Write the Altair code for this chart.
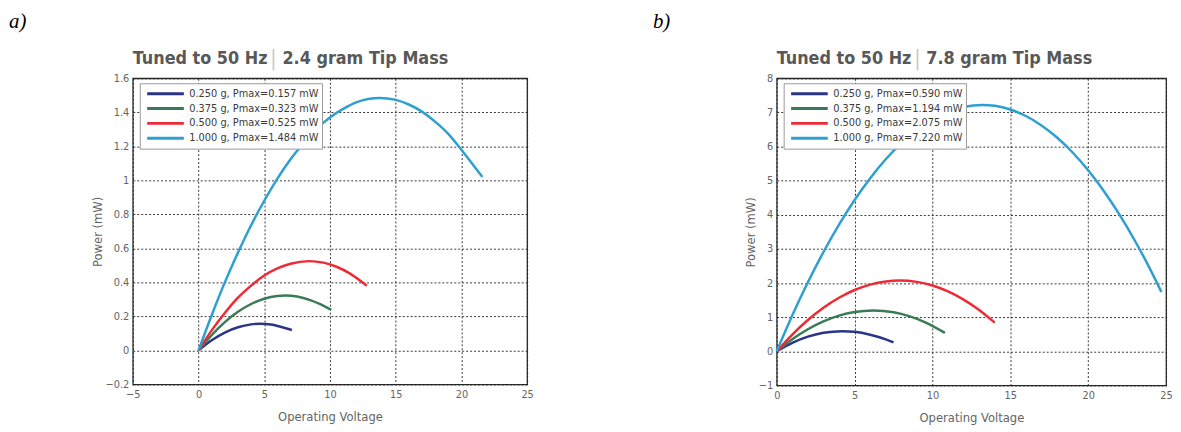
import altair as alt
import pandas as pd

# ---------------- data: panel a) 2.4 gram tip mass ----------------
a_labels = ["0.250 g, Pmax=0.157 mW", "0.375 g, Pmax=0.323 mW",
            "0.500 g, Pmax=0.525 mW", "1.000 g, Pmax=1.484 mW"]
a_v_025 = [0, 1, 2, 3, 4, 4.7, 5.5, 6.3, 7.1]
a_p_025 = [0, 0.06, 0.105, 0.136, 0.153, 0.157, 0.152, 0.138, 0.12]
a_v_0375 = [0, 1, 2, 3, 4, 5, 6, 6.6, 7.5, 8.5, 9.3, 10.1]
a_p_0375 = [0, 0.09, 0.166, 0.227, 0.273, 0.304, 0.32, 0.323, 0.317, 0.296, 0.27, 0.238]
a_v_05 = [0, 1, 2, 3, 4, 5, 6, 7, 8.4, 9.5, 10.5, 11.5, 12.8]
a_p_05 = [0, 0.118, 0.22, 0.31, 0.381, 0.44, 0.482, 0.51, 0.525, 0.516, 0.492, 0.453, 0.38]
a_v_1 = [0, 1, 2, 3, 4, 5, 6, 7, 8, 9, 10, 11, 12, 13.8, 15, 16, 17, 18, 19, 20, 21, 21.6]
a_p_1 = [0, 0.207, 0.4, 0.575, 0.736, 0.88, 1.01, 1.124, 1.22, 1.305, 1.37, 1.42, 1.459,
         1.484, 1.473, 1.446, 1.404, 1.345, 1.273, 1.18, 1.08, 1.02]

# ---------------- data: panel b) 7.8 gram tip mass ----------------
b_labels = ["0.250 g, Pmax=0.590 mW", "0.375 g, Pmax=1.194 mW",
            "0.500 g, Pmax=2.075 mW", "1.000 g, Pmax=7.220 mW"]
b_v_025 = [0, 1, 2, 3, 4.2, 5, 6, 7, 7.5]
b_p_025 = [0, 0.248, 0.428, 0.542, 0.59, 0.57, 0.485, 0.35, 0.26]
b_v_0375 = [0, 1, 2, 3, 4, 5, 6.2, 7.5, 8.5, 9.5, 10.8]
b_p_0375 = [0, 0.354, 0.646, 0.876, 1.044, 1.149, 1.194, 1.142, 1.03, 0.856, 0.54]
b_v_05 = [0, 1, 2, 3, 4, 5, 6, 7, 7.9, 9, 10, 11, 12, 13, 14]
b_p_05 = [0, 0.492, 0.918, 1.277, 1.569, 1.796, 1.955, 2.048, 2.075, 2.035, 1.928,
          1.756, 1.516, 1.21, 0.838]
b_v_1 = [0, 1, 2, 3, 4, 5, 6, 7, 8, 9, 10, 11, 12, 13.2, 14, 15, 16, 17, 18, 19, 20,
         21, 22, 23, 24, 24.7]
b_p_1 = [0, 1.053, 2.022, 2.909, 3.713, 4.434, 5.072, 5.627, 6.1, 6.489, 6.796, 7.02,
         7.16, 7.22, 7.194, 7.086, 6.895, 6.62, 6.265, 5.826, 5.304, 4.699, 4.011, 3.24,
         2.387, 1.74]

colors = ["#2b3588", "#3b7a57", "#ee2a36", "#2d9fd0"]

NARROW = "Liberation Sans Narrow, DejaVu Sans Condensed, Arial Narrow, sans-serif"
GRAY = "#646464"


def frame(labels, vs, ps):
    rows = []
    for lab, v, p in zip(labels, vs, ps):
        for a, b in zip(v, p):
            rows.append({"label": lab, "V": a, "P": b})
    return pd.DataFrame(rows)


def panel(df, labels, letter, mass, xdom, xvals, ydom, yvals, w, h, tag_y):
    lines = alt.Chart(df).mark_line(strokeWidth=2.5, interpolate="monotone").encode(
        x=alt.X("V:Q", scale=alt.Scale(domain=xdom, nice=False, zero=False),
                axis=alt.Axis(values=xvals, title="Operating Voltage", format="~g",
                              titlePadding=11)),
        y=alt.Y("P:Q", scale=alt.Scale(domain=ydom, nice=False, zero=False),
                axis=alt.Axis(values=yvals, title="Power (mW)", format="~g",
                              titlePadding=1)),
        color=alt.Color("label:N", scale=alt.Scale(domain=labels, range=colors),
                        legend=alt.Legend(orient="none", legendX=7, legendY=5, title=None,
                                          symbolType="stroke", symbolSize=1369,
                                          symbolStrokeWidth=3, clipHeight=15, rowPadding=0,
                                          padding=3, symbolOffset=3, labelOffset=4,
                                          strokeColor="#9a9a9a", fillColor="white",
                                          labelFont=NARROW, labelFontSize=11,
                                          labelColor="#3a3a3a", labelLimit=300)),
        order=alt.Order("V:Q"),
    )
    tag = alt.Chart(pd.DataFrame({"t": [letter]})).mark_text(
        font="Liberation Serif", fontStyle="italic", fontSize=21, align="left",
        baseline="alphabetic", color="black"
    ).encode(x=alt.value(-125), y=alt.value(tag_y), text="t:N")
    t1 = alt.Chart(pd.DataFrame({"t": ["Tuned to 50 Hz"]})).mark_text(
        font=NARROW, fontWeight="bold", fontSize=18, align="left",
        baseline="alphabetic", color="#585858"
    ).encode(x=alt.value(0), y=alt.value(-14), text="t:N")
    sep = alt.Chart(pd.DataFrame({"t": ["|"]})).mark_text(
        font=NARROW, fontSize=21, align="center",
        baseline="alphabetic", color="#c8c8c8"
    ).encode(x=alt.value(142), y=alt.value(-13), text="t:N")
    t2 = alt.Chart(pd.DataFrame({"t": [mass]})).mark_text(
        font=NARROW, fontWeight="bold", fontSize=18, align="left",
        baseline="alphabetic", color="#585858"
    ).encode(x=alt.value(151), y=alt.value(-14), text="t:N")
    return alt.layer(lines, tag, t1, sep, t2).properties(width=w, height=h)


chart_a = panel(frame(a_labels, [a_v_025, a_v_0375, a_v_05, a_v_1],
                      [a_p_025, a_p_0375, a_p_05, a_p_1]),
                a_labels, "a)", "2.4 gram Tip Mass",
                [-5, 25], [-5, 0, 5, 10, 15, 20, 25],
                [-0.2, 1.6], [-0.2, 0, 0.2, 0.4, 0.6, 0.8, 1, 1.2, 1.4, 1.6],
                398, 309, -51)

chart_b = panel(frame(b_labels, [b_v_025, b_v_0375, b_v_05, b_v_1],
                      [b_p_025, b_p_0375, b_p_05, b_p_1]),
                b_labels, "b)", "7.8 gram Tip Mass",
                [0, 25], [0, 5, 10, 15, 20, 25],
                [-1, 8], [-1, 0, 1, 2, 3, 4, 5, 6, 7, 8],
                393, 310, -51)

chart = alt.hconcat(chart_a, chart_b, spacing=119).resolve_scale(
    color="independent"
).configure(
    padding={"left": 0, "top": 0, "right": 0, "bottom": 0},
    background="white",
).configure_view(
    stroke="#2a2a2a", strokeWidth=1.3
).configure_axis(
    grid=True, gridColor="#222222", gridDash=[2, 2], gridWidth=1, gridOpacity=0.9,
    domain=False, ticks=False,
    labelFont=NARROW, labelFontSize=11, labelColor=GRAY, labelPadding=4,
    labelFlush=False, labelOverlap=False,
    titleFont=NARROW, titleFontSize=13, titleFontWeight="normal", titleColor=GRAY,
)

chart.save("out.html", embed_options={"renderer": "svg", "actions": False})
